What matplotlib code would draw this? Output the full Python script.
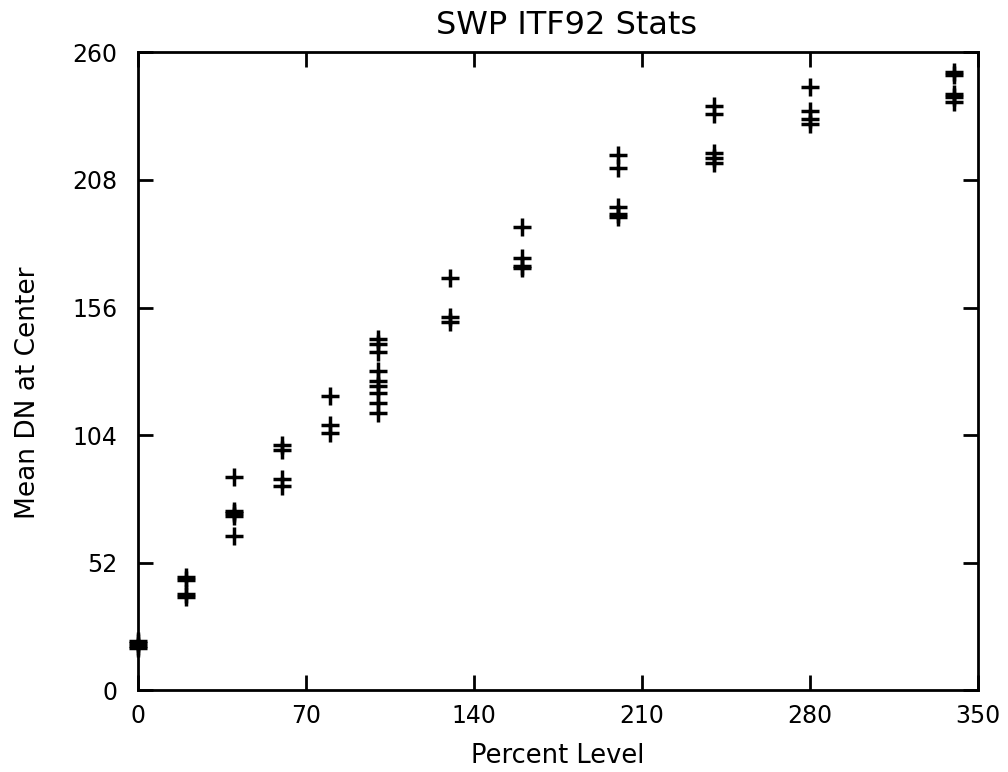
import matplotlib
matplotlib.use("Agg")
import matplotlib.pyplot as plt

# percent level -> mean DN readings at that level
levels = [0, 20, 40, 60, 80, 100, 130, 160, 200, 240, 280, 340]
readings = [
    [20, 19, 18, 17],
    [46, 45, 39, 38],
    [87, 73, 72, 71, 63],
    [100, 98, 86, 83],
    [120, 108, 105],
    [143, 141, 138, 130, 126, 124, 121, 117, 113],
    [168, 152, 150],
    [189, 176, 173, 172],
    [218, 213, 197, 194, 193],
    [238, 235, 219, 217, 215],
    [246, 236, 233, 231],
    [252, 251, 243, 242, 240],
]
x_ticks = [0, 70, 140, 210, 280, 350]
y_ticks = [0, 52, 104, 156, 208, 260]

plt.rcParams["font.family"] = ["DejaVu Sans"]

fig = plt.figure(figsize=(10.08, 7.72), dpi=100)
ax = fig.add_axes([0.1369, 0.1062, 0.8333, 0.8258])

for lv, vals in zip(levels, readings):
    ax.plot([lv] * len(vals), vals, linestyle="none", marker="+",
            markersize=13, markeredgewidth=2.5, color="black", clip_on=False)

ax.set_xlim(0, 350)
ax.set_ylim(0, 260)
ax.set_xticks(x_ticks)
ax.set_yticks(y_ticks)
ax.tick_params(direction="in", length=11, width=2, top=True, right=True,
               labelsize=17)
ax.tick_params(axis="x", pad=10)
ax.tick_params(axis="y", pad=15)
for s in ax.spines.values():
    s.set_linewidth(2)

ax.set_title("SWP ITF92 Stats", fontsize=23, pad=13, x=0.51)
ax.set_xlabel("Percent Level", fontsize=18.5, labelpad=11)
ax.set_ylabel("Mean DN at Center", fontsize=19, labelpad=22, y=0.467)

fig.savefig("out.png", dpi=100)
